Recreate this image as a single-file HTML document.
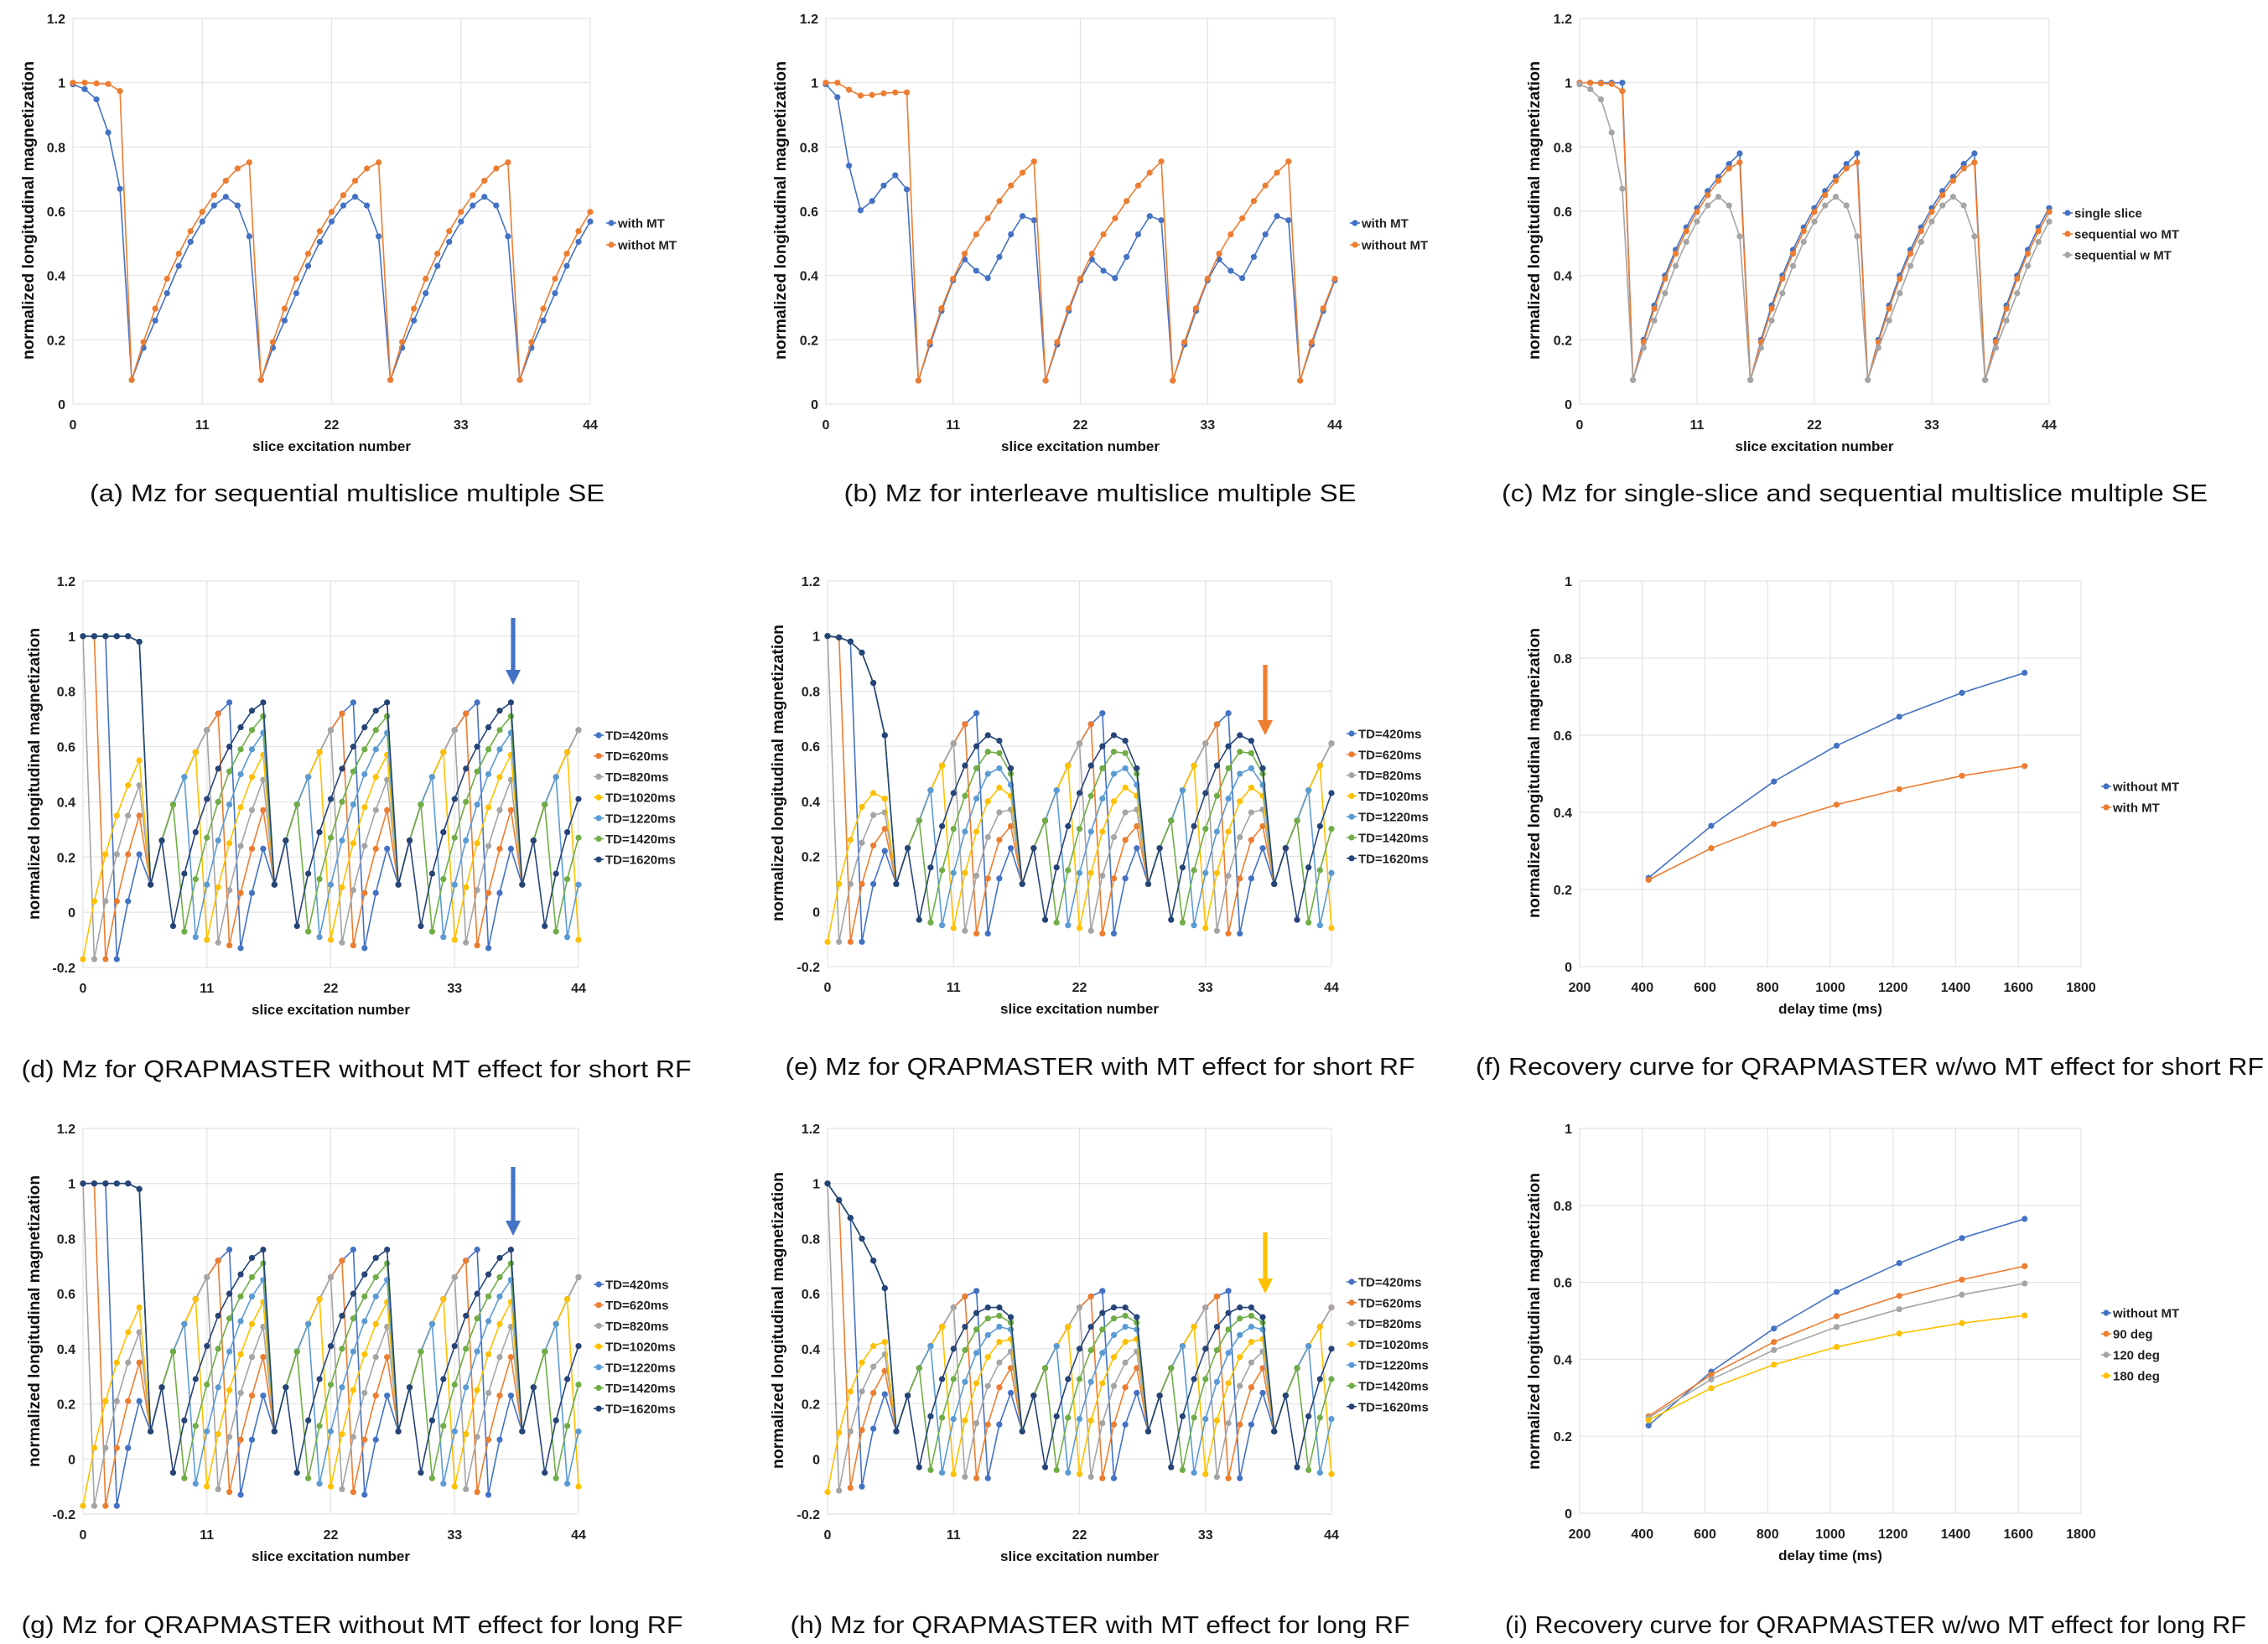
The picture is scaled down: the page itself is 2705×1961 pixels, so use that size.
<!DOCTYPE html>
<html><head><meta charset="utf-8"><style>
html,body{margin:0;padding:0;background:#fff;}
svg{display:block;font-family:"Liberation Sans",sans-serif;}
</style></head><body>
<svg id="root" width="2705" height="1961" viewBox="0 0 2705 1961" xmlns="http://www.w3.org/2000/svg"></svg>
<script>
// ---------- data: panel (a) ----------
const slices = [0,1,2,3,4,5,6,7,8,9,10,11,12,13,14,15,16,17,18,19,20,21,22,23,24,25,26,27,28,29,30,31,32,33,34,35,36,37,38,39,40,41,42,43,44];
const aWithMT = [0.995,0.98,0.948,0.845,0.67, 0.075,0.175,0.26,0.345,0.43,0.505,0.568,0.618,0.645,0.618,0.522, 0.075,0.175,0.26,0.345,0.43,0.505,0.568,0.618,0.645,0.618,0.522, 0.075,0.175,0.26,0.345,0.43,0.505,0.568,0.618,0.645,0.618,0.522, 0.075,0.175,0.26,0.345,0.43,0.505,0.568];
const aWithoutMT = [1,1,0.998,0.996,0.974, 0.075,0.193,0.297,0.39,0.468,0.538,0.598,0.65,0.695,0.733,0.752, 0.075,0.193,0.297,0.39,0.468,0.538,0.598,0.65,0.695,0.733,0.752, 0.075,0.193,0.297,0.39,0.468,0.538,0.598,0.65,0.695,0.733,0.752, 0.075,0.193,0.297,0.39,0.468,0.538,0.598];
// ---------- panel (b) ----------
const bWithMT = [0.995,0.955,0.742,0.603,0.632,0.68,0.712,0.668, 0.073,0.185,0.29,0.385,0.45,0.415,0.392,0.458,0.528,0.585,0.572, 0.073,0.185,0.29,0.385,0.45,0.415,0.392,0.458,0.528,0.585,0.572, 0.073,0.185,0.29,0.385,0.45,0.415,0.392,0.458,0.528,0.585,0.572, 0.073,0.185,0.29,0.385];
const bWithoutMT = [1,1,0.978,0.96,0.962,0.967,0.97,0.97, 0.073,0.193,0.298,0.39,0.468,0.528,0.578,0.632,0.68,0.72,0.755, 0.073,0.193,0.298,0.39,0.468,0.528,0.578,0.632,0.68,0.72,0.755, 0.073,0.193,0.298,0.39,0.468,0.528,0.578,0.632,0.68,0.72,0.755, 0.073,0.193,0.298,0.39];
// ---------- panel (c) ----------
const cSingle = [1,1,1,1,1, 0.075,0.2,0.307,0.4,0.48,0.55,0.61,0.663,0.707,0.747,0.78, 0.075,0.2,0.307,0.4,0.48,0.55,0.61,0.663,0.707,0.747,0.78, 0.075,0.2,0.307,0.4,0.48,0.55,0.61,0.663,0.707,0.747,0.78, 0.075,0.2,0.307,0.4,0.48,0.55,0.61];
const cSeqWo = [1,1,0.998,0.996,0.974, 0.075,0.193,0.297,0.39,0.468,0.538,0.598,0.65,0.695,0.733,0.752, 0.075,0.193,0.297,0.39,0.468,0.538,0.598,0.65,0.695,0.733,0.752, 0.075,0.193,0.297,0.39,0.468,0.538,0.598,0.65,0.695,0.733,0.752, 0.075,0.193,0.297,0.39,0.468,0.538,0.598];
const cSeqW = [0.995,0.98,0.948,0.845,0.67, 0.075,0.175,0.26,0.345,0.43,0.505,0.568,0.618,0.645,0.618,0.522, 0.075,0.175,0.26,0.345,0.43,0.505,0.568,0.618,0.645,0.618,0.522, 0.075,0.175,0.26,0.345,0.43,0.505,0.568,0.618,0.645,0.618,0.522, 0.075,0.175,0.26,0.345,0.43,0.505,0.568];
// ---------- panel (d) and (g): without MT ----------
const dTD420 = [1,1,1,-0.17,0.04,0.21, 0.10,0.26,0.39,0.49,0.58,0.66,0.72,0.76,-0.13,0.07,0.23, 0.10,0.26,0.39,0.49,0.58,0.66,0.72,0.76,-0.13,0.07,0.23, 0.10,0.26,0.39,0.49,0.58,0.66,0.72,0.76,-0.13,0.07,0.23, 0.10,0.26,0.39,0.49,0.58,0.66];
const dTD620 = [1,1,-0.17,0.04,0.21,0.35, 0.10,0.26,0.39,0.49,0.58,0.66,0.72,-0.12,0.07,0.23,0.37, 0.10,0.26,0.39,0.49,0.58,0.66,0.72,-0.12,0.07,0.23,0.37, 0.10,0.26,0.39,0.49,0.58,0.66,0.72,-0.12,0.07,0.23,0.37, 0.10,0.26,0.39,0.49,0.58,0.66];
const dTD820 = [1,-0.17,0.04,0.21,0.35,0.46, 0.10,0.26,0.39,0.49,0.58,0.66,-0.11,0.08,0.24,0.37,0.48, 0.10,0.26,0.39,0.49,0.58,0.66,-0.11,0.08,0.24,0.37,0.48, 0.10,0.26,0.39,0.49,0.58,0.66,-0.11,0.08,0.24,0.37,0.48, 0.10,0.26,0.39,0.49,0.58,0.66];
const dTD1020 = [-0.17,0.04,0.21,0.35,0.46,0.55, 0.10,0.26,0.39,0.49,0.58,-0.10,0.09,0.25,0.38,0.49,0.57, 0.10,0.26,0.39,0.49,0.58,-0.10,0.09,0.25,0.38,0.49,0.57, 0.10,0.26,0.39,0.49,0.58,-0.10,0.09,0.25,0.38,0.49,0.57, 0.10,0.26,0.39,0.49,0.58,-0.10];
const dTD1220 = [1,1,1,1,1,0.98, 0.10,0.26,0.39,0.49,-0.09,0.10,0.26,0.39,0.50,0.59,0.65, 0.10,0.26,0.39,0.49,-0.09,0.10,0.26,0.39,0.50,0.59,0.65, 0.10,0.26,0.39,0.49,-0.09,0.10,0.26,0.39,0.50,0.59,0.65, 0.10,0.26,0.39,0.49,-0.09,0.10];
const dTD1420 = [1,1,1,1,1,0.98, 0.10,0.26,0.39,-0.07,0.12,0.27,0.40,0.51,0.59,0.66,0.71, 0.10,0.26,0.39,-0.07,0.12,0.27,0.40,0.51,0.59,0.66,0.71, 0.10,0.26,0.39,-0.07,0.12,0.27,0.40,0.51,0.59,0.66,0.71, 0.10,0.26,0.39,-0.07,0.12,0.27];
const dTD1620 = [1,1,1,1,1,0.98, 0.10,0.26,-0.05,0.14,0.29,0.41,0.52,0.60,0.67,0.73,0.76, 0.10,0.26,-0.05,0.14,0.29,0.41,0.52,0.60,0.67,0.73,0.76, 0.10,0.26,-0.05,0.14,0.29,0.41,0.52,0.60,0.67,0.73,0.76, 0.10,0.26,-0.05,0.14,0.29,0.41];
// ---------- panel (e): with MT, short RF ----------
const eTD420 = [1,0.995,0.98,-0.11,0.10,0.22, 0.10,0.23,0.33,0.44,0.53,0.61,0.68,0.72,-0.08,0.12,0.23, 0.10,0.23,0.33,0.44,0.53,0.61,0.68,0.72,-0.08,0.12,0.23, 0.10,0.23,0.33,0.44,0.53,0.61,0.68,0.72,-0.08,0.12,0.23, 0.10,0.23,0.33,0.44,0.53,0.61];
const eTD620 = [1,0.995,-0.11,0.10,0.24,0.30, 0.10,0.23,0.33,0.44,0.53,0.61,0.68,-0.08,0.12,0.26,0.31, 0.10,0.23,0.33,0.44,0.53,0.61,0.68,-0.08,0.12,0.26,0.31, 0.10,0.23,0.33,0.44,0.53,0.61,0.68,-0.08,0.12,0.26,0.31, 0.10,0.23,0.33,0.44,0.53,0.61];
const eTD820 = [1,-0.11,0.10,0.25,0.35,0.36, 0.10,0.23,0.33,0.44,0.53,0.61,-0.07,0.13,0.27,0.36,0.37, 0.10,0.23,0.33,0.44,0.53,0.61,-0.07,0.13,0.27,0.36,0.37, 0.10,0.23,0.33,0.44,0.53,0.61,-0.07,0.13,0.27,0.36,0.37, 0.10,0.23,0.33,0.44,0.53,0.61];
const eTD1020 = [-0.11,0.10,0.26,0.38,0.43,0.41, 0.10,0.23,0.33,0.44,0.53,-0.06,0.14,0.29,0.40,0.45,0.42, 0.10,0.23,0.33,0.44,0.53,-0.06,0.14,0.29,0.40,0.45,0.42, 0.10,0.23,0.33,0.44,0.53,-0.06,0.14,0.29,0.40,0.45,0.42, 0.10,0.23,0.33,0.44,0.53,-0.06];
const eTD1220 = [1,0.995,0.98,0.94,0.83,0.64, 0.10,0.23,0.33,0.44,-0.05,0.14,0.29,0.41,0.50,0.52,0.46, 0.10,0.23,0.33,0.44,-0.05,0.14,0.29,0.41,0.50,0.52,0.46, 0.10,0.23,0.33,0.44,-0.05,0.14,0.29,0.41,0.50,0.52,0.46, 0.10,0.23,0.33,0.44,-0.05,0.14];
const eTD1420 = [1,0.995,0.98,0.94,0.83,0.64, 0.10,0.23,0.33,-0.04,0.15,0.30,0.42,0.52,0.58,0.575,0.50, 0.10,0.23,0.33,-0.04,0.15,0.30,0.42,0.52,0.58,0.575,0.50, 0.10,0.23,0.33,-0.04,0.15,0.30,0.42,0.52,0.58,0.575,0.50, 0.10,0.23,0.33,-0.04,0.15,0.30];
const eTD1620 = [1,0.995,0.98,0.94,0.83,0.64, 0.10,0.23,-0.03,0.16,0.31,0.43,0.53,0.60,0.64,0.62,0.52, 0.10,0.23,-0.03,0.16,0.31,0.43,0.53,0.60,0.64,0.62,0.52, 0.10,0.23,-0.03,0.16,0.31,0.43,0.53,0.60,0.64,0.62,0.52, 0.10,0.23,-0.03,0.16,0.31,0.43];
// ---------- panel (h): with MT, long RF ----------
const hTD420 = [1,0.94,0.875,-0.10,0.11,0.235, 0.10,0.23,0.33,0.41,0.48,0.55,0.59,0.61,-0.07,0.125,0.24, 0.10,0.23,0.33,0.41,0.48,0.55,0.59,0.61,-0.07,0.125,0.24, 0.10,0.23,0.33,0.41,0.48,0.55,0.59,0.61,-0.07,0.125,0.24, 0.10,0.23,0.33,0.41,0.48,0.55];
const hTD620 = [1,0.94,-0.105,0.105,0.24,0.32, 0.10,0.23,0.33,0.41,0.48,0.55,0.59,-0.07,0.125,0.26,0.33, 0.10,0.23,0.33,0.41,0.48,0.55,0.59,-0.07,0.125,0.26,0.33, 0.10,0.23,0.33,0.41,0.48,0.55,0.59,-0.07,0.125,0.26,0.33, 0.10,0.23,0.33,0.41,0.48,0.55];
const hTD820 = [1,-0.115,0.10,0.245,0.335,0.38, 0.10,0.23,0.33,0.41,0.48,0.55,-0.065,0.13,0.265,0.35,0.39, 0.10,0.23,0.33,0.41,0.48,0.55,-0.065,0.13,0.265,0.35,0.39, 0.10,0.23,0.33,0.41,0.48,0.55,-0.065,0.13,0.265,0.35,0.39, 0.10,0.23,0.33,0.41,0.48,0.55];
const hTD1020 = [-0.12,0.095,0.245,0.35,0.41,0.425, 0.10,0.23,0.33,0.41,0.48,-0.055,0.14,0.275,0.37,0.425,0.435, 0.10,0.23,0.33,0.41,0.48,-0.055,0.14,0.275,0.37,0.425,0.435, 0.10,0.23,0.33,0.41,0.48,-0.055,0.14,0.275,0.37,0.425,0.435, 0.10,0.23,0.33,0.41,0.48,-0.055];
const hTD1220 = [1,0.94,0.875,0.80,0.72,0.62, 0.10,0.23,0.33,0.41,-0.05,0.145,0.28,0.385,0.45,0.48,0.47, 0.10,0.23,0.33,0.41,-0.05,0.145,0.28,0.385,0.45,0.48,0.47, 0.10,0.23,0.33,0.41,-0.05,0.145,0.28,0.385,0.45,0.48,0.47, 0.10,0.23,0.33,0.41,-0.05,0.145];
const hTD1420 = [1,0.94,0.875,0.80,0.72,0.62, 0.10,0.23,0.33,-0.04,0.15,0.29,0.395,0.47,0.51,0.52,0.495, 0.10,0.23,0.33,-0.04,0.15,0.29,0.395,0.47,0.51,0.52,0.495, 0.10,0.23,0.33,-0.04,0.15,0.29,0.395,0.47,0.51,0.52,0.495, 0.10,0.23,0.33,-0.04,0.15,0.29];
const hTD1620 = [1,0.94,0.875,0.80,0.72,0.62, 0.10,0.23,-0.03,0.155,0.29,0.40,0.48,0.53,0.55,0.55,0.515, 0.10,0.23,-0.03,0.155,0.29,0.40,0.48,0.53,0.55,0.55,0.515, 0.10,0.23,-0.03,0.155,0.29,0.40,0.48,0.53,0.55,0.55,0.515, 0.10,0.23,-0.03,0.155,0.29,0.40];
// ---------- panels (f), (i): recovery curves ----------
const delayTimes = [420,620,820,1020,1220,1420,1620];
const fWithoutMT = [0.23,0.365,0.48,0.573,0.648,0.71,0.762];
const fWithMT = [0.225,0.307,0.37,0.42,0.46,0.495,0.52];
const iWithoutMT = [0.228,0.368,0.48,0.575,0.65,0.715,0.765];
const i90 = [0.252,0.36,0.445,0.512,0.565,0.607,0.642];
const i120 = [0.248,0.348,0.424,0.484,0.53,0.568,0.597];
const i180 = [0.242,0.325,0.386,0.432,0.467,0.494,0.514];
// ---------- tick labels ----------
const sliceTicks = [0,11,22,33,44];
const yTicksA = [0,0.2,0.4,0.6,0.8,1,1.2];
const yTicksD = [-0.2,0,0.2,0.4,0.6,0.8,1,1.2];
const yTicksF = [0,0.2,0.4,0.6,0.8,1];
const delayTicks = [200,400,600,800,1000,1200,1400,1600,1800];
const tdLabels = ["TD=420ms","TD=620ms","TD=820ms","TD=1020ms","TD=1220ms","TD=1420ms","TD=1620ms"];

const C = {blue:"#4472C4",orange:"#ED7D31",gray:"#A5A5A5",yellow:"#FFC000",lblue:"#5B9BD5",green:"#70AD47",navy:"#264478"};
const TDCOL = [C.blue,C.orange,C.gray,C.yellow,C.lblue,C.green,C.navy];
const NS = "http://www.w3.org/2000/svg";
const root = document.getElementById("root");
function mk(tag, attrs, parent){
  const e = document.createElementNS(NS, tag);
  for (const k in attrs) e.setAttribute(k, attrs[k]);
  (parent||root).appendChild(e);
  return e;
}
function fmt(v){ return String(v); }

function panel(p){
  const g = mk("g", {});
  
  
  const sx = v => p.L + (v - p.xmin) / (p.xmax - p.xmin) * (p.R - p.L);
  const sy = v => p.B - (v - p.ymin) / (p.ymax - p.ymin) * (p.B - p.T);
  // gridlines
  p.yTicks.forEach(t => {
    const ln = mk("line", {x1:p.L, x2:p.R, y1:sy(t), y2:sy(t), stroke:"#e3e3e3", "stroke-width":1.2}, g);
    
    
    const tx = mk("text", {x:p.L-9, y:sy(t)+6, "text-anchor":"end", "font-size":16, "font-weight":"bold", fill:"#222"}, g);
    tx.textContent = fmt(t);
    
    
  });
  p.xTicks.forEach(t => {
    const ln = mk("line", {x1:sx(t), x2:sx(t), y1:p.T, y2:p.B, stroke:"#e3e3e3", "stroke-width":1.2}, g);
    
    
    const tx = mk("text", {x:sx(t), y:p.B+30, "text-anchor":"middle", "font-size":16, "font-weight":"bold", fill:"#222"}, g);
    tx.textContent = fmt(t);
    
    
  });
  // axis titles
  const xt = mk("text", {x:(p.L+p.R)/2, y:p.B+56, "text-anchor":"middle", "font-size":17, "font-weight":"bold", fill:"#111"}, g);
  xt.textContent = p.xTitle;
  
  
  const yt = mk("text", {x:0, y:0, "text-anchor":"middle", "font-size":19, "font-weight":"bold", fill:"#111", textLength:p.yLen, lengthAdjust:"spacingAndGlyphs", transform:`translate(${p.yx},${p.yc}) rotate(-90)`}, g);
  yt.textContent = p.yTitle;
  
  
  // series
  p.series.forEach((s, si) => {
    const sg = mk("g", {}, g);
    
    
    const pts = s.y.map((v,i) => sx(p.xs[i]).toFixed(1) + "," + sy(v).toFixed(1)).join(" ");
    const pl = mk("polyline", {points:pts, fill:"none", stroke:s.c, "stroke-width":1.6}, sg);
    
    
    s.y.forEach((v,i) => {
      const c = mk("circle", {cx:sx(p.xs[i]), cy:sy(v), r:3.6, fill:s.c}, sg);
      
      
    });
    // legend entry
    const ly = p.legY + si * p.legStep;
    const lg = mk("g", {}, g);
    
    
    mk("line", {x1:p.legX, x2:p.legX+12, y1:ly, y2:ly, stroke:s.c, "stroke-width":1.6}, lg);
    mk("circle", {cx:p.legX+6, cy:ly, r:3.6, fill:s.c}, lg);
    const lt = mk("text", {x:p.legX+14, y:ly+5.5, "font-size":15, "font-weight":"bold", fill:"#222"}, lg);
    lt.textContent = s.label;
  });
  // caption
  const cap = mk("text", {x:p.capX, y:p.capY+10, "text-anchor":"middle", "font-size":29, fill:"#111", textLength:p.capLen, lengthAdjust:"spacingAndGlyphs"}, g);
  cap.textContent = p.caption;
  
  
  if (p.arrow) {
    const a = p.arrow;
    const ag = mk("g", {}, g);
    
    
    mk("rect", {x:a.x-2.6, y:a.y1, width:5.2, height:(a.y2-a.y1)-17, fill:a.c}, ag);
    mk("polygon", {points:`${a.x-9},${a.y2-18} ${a.x+9},${a.y2-18} ${a.x},${a.y2}`, fill:a.c}, ag);
  }
}

const SLICE_Y = "normalized longitudinal magnetization";
function tdSeries(arrs){ return arrs.map((y,i)=>({y:y, c:TDCOL[i], label:tdLabels[i]})); }

panel({name:"chart-a", L:87, R:704, T:22, B:482, xmin:0, xmax:44, ymin:0, ymax:1.2, xs:slices, xTicks:sliceTicks, yTicks:yTicksA,
  xTitle:"slice excitation number", yTitle:SLICE_Y, yx:40, yc:251, yLen:356,
  series:[{y:aWithMT,c:C.blue,label:"with MT"},{y:aWithoutMT,c:C.orange,label:"withot MT"}],
  legX:723, legY:266, legStep:26, caption:"(a) Mz for sequential multislice multiple SE", capX:414, capY:588, capLen:614});
panel({name:"chart-b", L:985, R:1592, T:22, B:482, xmin:0, xmax:44, ymin:0, ymax:1.2, xs:slices, xTicks:sliceTicks, yTicks:yTicksA,
  xTitle:"slice excitation number", yTitle:SLICE_Y, yx:937, yc:251, yLen:356,
  series:[{y:bWithMT,c:C.blue,label:"with MT"},{y:bWithoutMT,c:C.orange,label:"without MT"}],
  legX:1610, legY:266, legStep:26, caption:"(b) Mz for interleave multislice multiple SE", capX:1312, capY:588, capLen:611});
panel({name:"chart-c", L:1884, R:2444, T:22, B:482, xmin:0, xmax:44, ymin:0, ymax:1.2, xs:slices, xTicks:sliceTicks, yTicks:yTicksA,
  xTitle:"slice excitation number", yTitle:SLICE_Y, yx:1836, yc:251, yLen:356,
  series:[{y:cSingle,c:C.blue,label:"single slice"},{y:cSeqWo,c:C.orange,label:"sequential wo MT"},{y:cSeqW,c:C.gray,label:"sequential w MT"}],
  legX:2460, legY:254, legStep:25, caption:"(c) Mz for single-slice and sequential multislice multiple SE", capX:2212, capY:588, capLen:842});
panel({name:"chart-d", L:99, R:690, T:693, B:1154, xmin:0, xmax:44, ymin:-0.2, ymax:1.2, xs:slices, xTicks:sliceTicks, yTicks:yTicksD,
  xTitle:"slice excitation number", yTitle:SLICE_Y, yx:47, yc:923, yLen:348,
  series:tdSeries([dTD420,dTD620,dTD820,dTD1020,dTD1220,dTD1420,dTD1620]),
  legX:708, legY:877, legStep:24.7, caption:"(d) Mz for QRAPMASTER without MT effect for short RF", capX:425, capY:1275, capLen:799,
  arrow:{x:612, y1:737, y2:817, c:C.blue}});
panel({name:"chart-e", L:987, R:1588, T:693, B:1153, xmin:0, xmax:44, ymin:-0.2, ymax:1.2, xs:slices, xTicks:sliceTicks, yTicks:yTicksD,
  xTitle:"slice excitation number", yTitle:SLICE_Y, yx:934, yc:922, yLen:354,
  series:tdSeries([eTD420,eTD620,eTD820,eTD1020,eTD1220,eTD1420,eTD1620]),
  legX:1606, legY:875, legStep:24.8, caption:"(e) Mz for QRAPMASTER with MT effect for short RF", capX:1312, capY:1272, capLen:751,
  arrow:{x:1509, y1:793, y2:877, c:C.orange}});
panel({name:"chart-f", L:1884, R:2482, T:693, B:1153, xmin:200, xmax:1800, ymin:0, ymax:1, xs:delayTimes, xTicks:delayTicks, yTicks:yTicksF,
  xTitle:"delay time (ms)", yTitle:"normalized longitudinal magneization", yx:1836, yc:922, yLen:346,
  series:[{y:fWithoutMT,c:C.blue,label:"without MT"},{y:fWithMT,c:C.orange,label:"with MT"}],
  legX:2506, legY:938, legStep:25, caption:"(f) Recovery curve for QRAPMASTER w/wo MT effect for short RF", capX:2230, capY:1272, capLen:940});
panel({name:"chart-g", L:99, R:690, T:1346, B:1806, xmin:0, xmax:44, ymin:-0.2, ymax:1.2, xs:slices, xTicks:sliceTicks, yTicks:yTicksD,
  xTitle:"slice excitation number", yTitle:SLICE_Y, yx:47, yc:1576, yLen:348,
  series:tdSeries([dTD420,dTD620,dTD820,dTD1020,dTD1220,dTD1420,dTD1620]),
  legX:708, legY:1532, legStep:24.7, caption:"(g) Mz for QRAPMASTER without MT effect for long RF", capX:420, capY:1938, capLen:789,
  arrow:{x:612, y1:1392, y2:1474, c:C.blue}});
panel({name:"chart-h", L:987, R:1588, T:1346, B:1806, xmin:0, xmax:44, ymin:-0.2, ymax:1.2, xs:slices, xTicks:sliceTicks, yTicks:yTicksD,
  xTitle:"slice excitation number", yTitle:SLICE_Y, yx:934, yc:1575, yLen:354,
  series:tdSeries([hTD420,hTD620,hTD820,hTD1020,hTD1220,hTD1420,hTD1620]),
  legX:1606, legY:1529, legStep:24.8, caption:"(h) Mz for QRAPMASTER with MT effect for long RF", capX:1312, capY:1938, capLen:739,
  arrow:{x:1509, y1:1470, y2:1543, c:C.yellow}});
panel({name:"chart-i", L:1884, R:2482, T:1346, B:1805, xmin:200, xmax:1800, ymin:0, ymax:1, xs:delayTimes, xTicks:delayTicks, yTicks:yTicksF,
  xTitle:"delay time (ms)", yTitle:SLICE_Y, yx:1836, yc:1576, yLen:354,
  series:[{y:iWithoutMT,c:C.blue,label:"without MT"},{y:i90,c:C.orange,label:"90 deg"},{y:i120,c:C.gray,label:"120 deg"},{y:i180,c:C.yellow,label:"180 deg"}],
  legX:2506, legY:1566, legStep:25, caption:"(i) Recovery curve for QRAPMASTER w/wo MT effect for long RF", capX:2237, capY:1938, capLen:884});
</script>
</body></html>
